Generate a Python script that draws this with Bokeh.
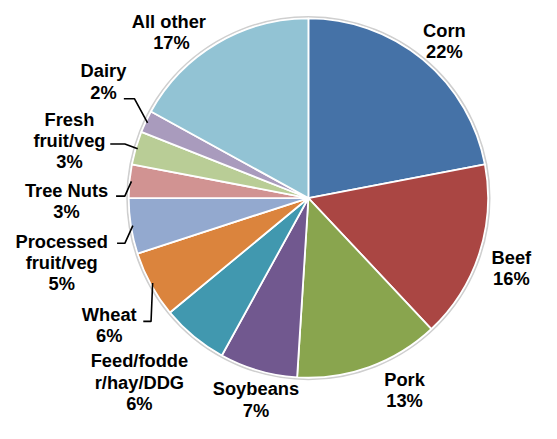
import math
from bokeh.plotting import figure
from bokeh.models import Range1d, ColumnDataSource
from bokeh.core.properties import value
from bokeh.embed import file_html
from bokeh.resources import INLINE

# ---- data ----
categories = ["Corn", "Beef", "Pork", "Soybeans", "Feed/fodde\nr/hay/DDG", "Wheat",
              "Processed\nfruit/veg", "Tree Nuts", "Fresh\nfruit/veg", "Dairy", "All  other"]
shares = [22, 16, 13, 7, 6, 6, 5, 3, 3, 2, 17]
colors = ["#4572A7", "#AA4643", "#89A54E", "#71588F", "#4198AF", "#DB843D",
          "#93A9CF", "#D19392", "#B9CD96", "#A99BBD", "#92C3D4"]

# ---- layout (reference-pixel positions of label block centres) ----
label_x = [457, 526, 416, 263, 143, 112, 63, 68, 71, 106, 176]
label_y = [42, 278, 404, 414, 396, 337, 272, 208, 145, 84, 33]
# leader lines: (start_x, elbow_x, y)
leaders = {5: (147, 155, 333), 6: (120, 128, 252), 7: (119, 128, 203),
           8: (113, 128, 149), 9: (127, 138, 102)}

W, H = 541, 423          # figure size in screen pixels
RW, RH = 557, 439        # reference canvas mapped into the figure
CX, CY, R = 317, 205, 185
LINE_H = 22
SCALE = H / RH

p = figure(width=W, height=H, output_backend="svg", toolbar_location=None,
           x_range=Range1d(0, RW), y_range=Range1d(-RH, 0),
           min_border=0, outline_line_color=None)
p.axis.visible = False
p.grid.visible = False
p.background_fill_color = "white"

total = sum(shares)
starts, ends, mids = [], [], []
cum = 0
for v in shares:
    a0 = math.pi / 2 - 2 * math.pi * cum / total
    cum += v
    a1 = math.pi / 2 - 2 * math.pi * cum / total
    starts.append(a0)
    ends.append(a1)
    mids.append((a0 + a1) / 2)

# faint outer shadow
p.circle(x=[CX], y=[-CY], radius=R + 1.5, fill_color=None, line_color="#cfcfcf", line_width=2)

src = ColumnDataSource(dict(x=[CX] * len(shares), y=[-CY] * len(shares),
                            s=starts, e=ends, c=colors))
p.wedge(x="x", y="y", radius=R, start_angle="s", end_angle="e", direction="clock",
        fill_color="c", line_color="white", line_width=1.8, source=src)

# leader lines
for i, (sx, ex, ly) in leaders.items():
    ang = mids[i]
    px = CX + (R - 2) * math.cos(ang)
    py = CY - (R - 2) * math.sin(ang)
    p.line(x=[sx, ex, px], y=[-ly, -ly, -py], line_color="black", line_width=1.6)

# labels
tx, ty, tt = [], [], []
for i, name in enumerate(categories):
    lines = name.split("\n") + [f"{shares[i]}%"]
    n = len(lines)
    for k, ln in enumerate(lines):
        tx.append(label_x[i])
        ty.append(-(label_y[i] + (k - (n - 1) / 2) * LINE_H))
        tt.append(ln)
p.text(x=tx, y=ty, text=tt, text_font=value("Liberation Sans"), text_font_style="bold",
       text_font_size=f"{19 * SCALE:.1f}px", text_color="black", text_align="center",
       text_baseline="middle")

open("out.html", "w").write(file_html(p, INLINE))
